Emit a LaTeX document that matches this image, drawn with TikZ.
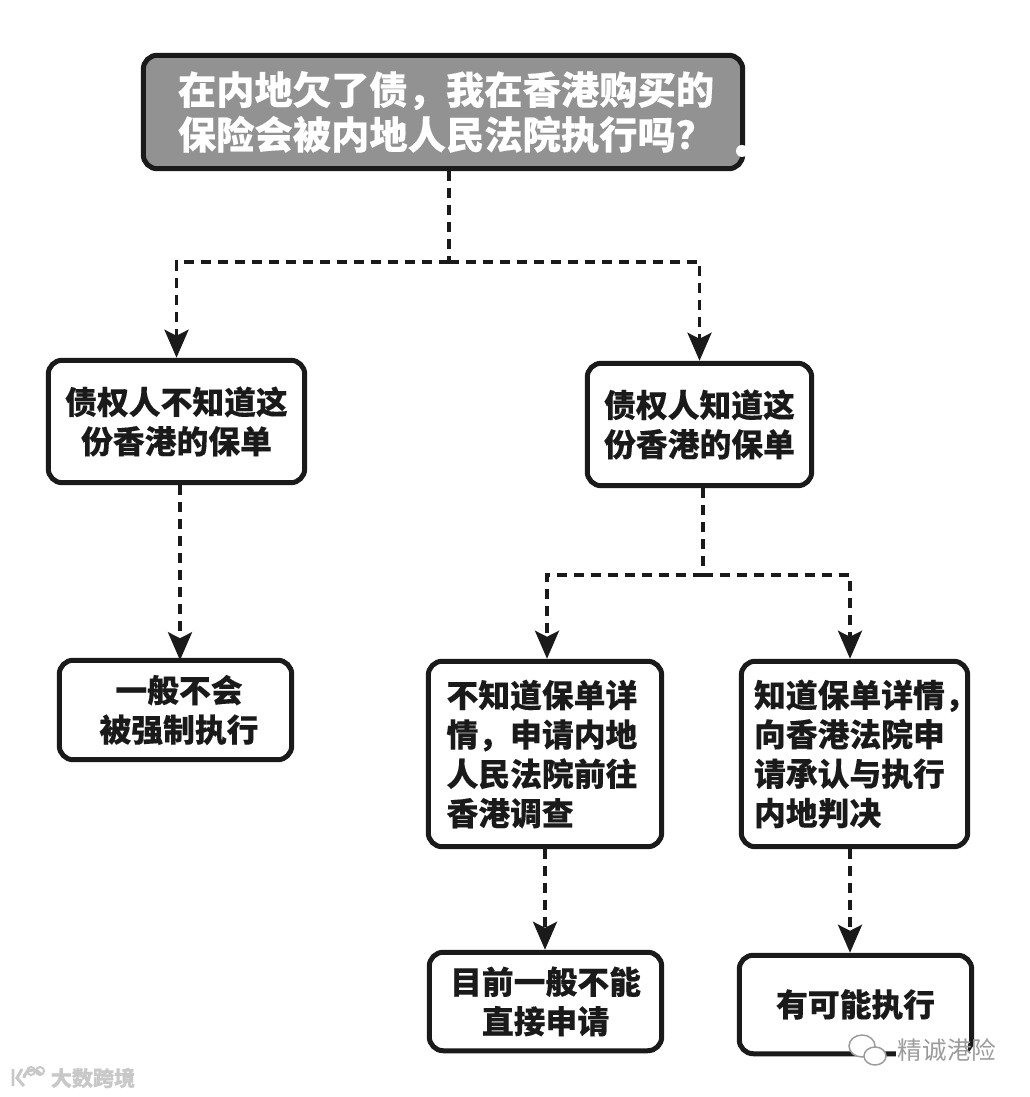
\documentclass[tikz,border=0pt]{standalone}
\usepackage{fontspec}
\usetikzlibrary{arrows.meta,positioning,calc}
\newfontfamily\cjk[BoldFeatures={FakeBold=0.2}]{Noto Sans CJK SC}
\definecolor{boxgray}{HTML}{929292}
\definecolor{inkblack}{HTML}{1A1A1A}
\definecolor{markgray}{HTML}{9C9C9C}
\definecolor{palegray}{HTML}{C8C8C8}
\tikzset{
  box/.style={draw=inkblack,line width=0.1cm,rounded corners=0.28cm,fill=white,inner sep=0pt,
    text=inkblack,align=center,font=\cjk\bfseries\fontsize{18.1}{22.4}\selectfont},
  question/.style={box,fill=boxgray,text=white,font=\cjk\bfseries\fontsize{21.8}{25.5}\selectfont},
  link/.style={draw=inkblack,line width=0.07cm,dash pattern=on 0.2cm off 0.14cm},
  linkend/.style={link,-{Stealth[length=0.56cm,width=0.48cm,inset=0.12cm]}},
  watermark/.style={text=markgray,font=\cjk\fontsize{14}{16}\selectfont,inner sep=1pt}
}
\begin{document}
\begin{tikzpicture}[x=0.02cm,y=-0.02cm]
    \useasboundingbox (0,0) rectangle (1029,1097);
    % Boxes
    \node[question,minimum width=11.99cm,minimum height=2.27cm] (q) at (443,112)
      {\hspace*{0.12cm}在内地欠了债，我在香港购买的\\\hspace*{0.12cm}保险会被内地人民法院执行吗？};
    \node[box,minimum width=5.13cm,minimum height=2.45cm] (unknown) at (176.5,421.5)
      {债权人不知道这\\份香港的保单};
    \node[box,minimum width=4.49cm,minimum height=2.45cm] (known) at (699.5,424.5)
      {债权人知道这\\份香港的保单};
    \node[box,minimum width=4.65cm,minimum height=1.99cm] (nodo) at (175.5,710)
      {\hspace*{0.14cm}一般不会\\\hspace*{0.14cm}被强制执行};
    \node[box,minimum width=4.67cm,minimum height=3.71cm,text width=3.94cm,align=left] (nodetail) at (545,754)
      {不知道保单详\\情，申请内地\\人民法院前往\\香港调查};
    \node[box,minimum width=4.53cm,minimum height=3.71cm,text width=4.02cm,align=left] (detail) at (854.5,754)
      {知道保单详情，\\向香港法院申\\请承认与执行\\内地判决};
    \node[box,minimum width=4.65cm,minimum height=1.97cm] (cannot) at (545.5,1001.5)
      {目前一般不能\\直接申请};
    \node[box,minimum width=4.65cm,minimum height=1.97cm] (maybe) at (855.5,1004.5)
      {有可能执行};
    % Split points
    \coordinate (splitq) at (449,262);
    \coordinate (splitk) at (703,575);
    \coordinate (dropa) at (547,575);
    \coordinate (dropb) at (850,575);
    % Connectors
    \draw[link] (q.south -| splitq) -- (splitq);
    \draw[linkend] (splitq) -| (unknown.north);
    \draw[linkend] (splitq) -| (known.north);
    \draw[linkend] (unknown.south -| nodo.north) ++(4.5,0) -- ++(0,175);
    \draw[link] (known.south -| splitk) -- (splitk);
    \draw[linkend] (splitk) -- (dropa) -- (dropa |- nodetail.north);
    \draw[linkend] (splitk) -- (dropb) -- (dropb |- detail.north);
    \draw[linkend] (nodetail.south) -- (cannot.north -| nodetail.south);
    \draw[linkend] (detail.south -| dropb) -- (dropb |- maybe.north);
    % Nick in the title frame
    \fill[white] (742,151) circle (6);
    % Watermarks
    \fill[white] (896,1038) rectangle (968,1065);
    \node[watermark] (wm) at (947,1050) {精诚港险};
    \draw[markgray,line width=0.03cm,fill=white] (862,1046) ellipse (13 and 11);
    \draw[markgray,line width=0.03cm,fill=white] (875,1056) ellipse (11 and 9);
    \node[watermark,text=palegray,font=\cjk\bfseries\fontsize{12}{14}\selectfont] (wmb) at (93,1078) {大数跨境};
    \draw[palegray,line width=0.06cm] (13,1069) -- (13,1086) (22,1069) -- (17,1078) -- (24,1086)
      (24,1078) arc (180:330:9 and 8);
    \draw[palegray,line width=0.04cm] (31,1071) circle (4) (40,1071) circle (4);
\end{tikzpicture}
\end{document}
